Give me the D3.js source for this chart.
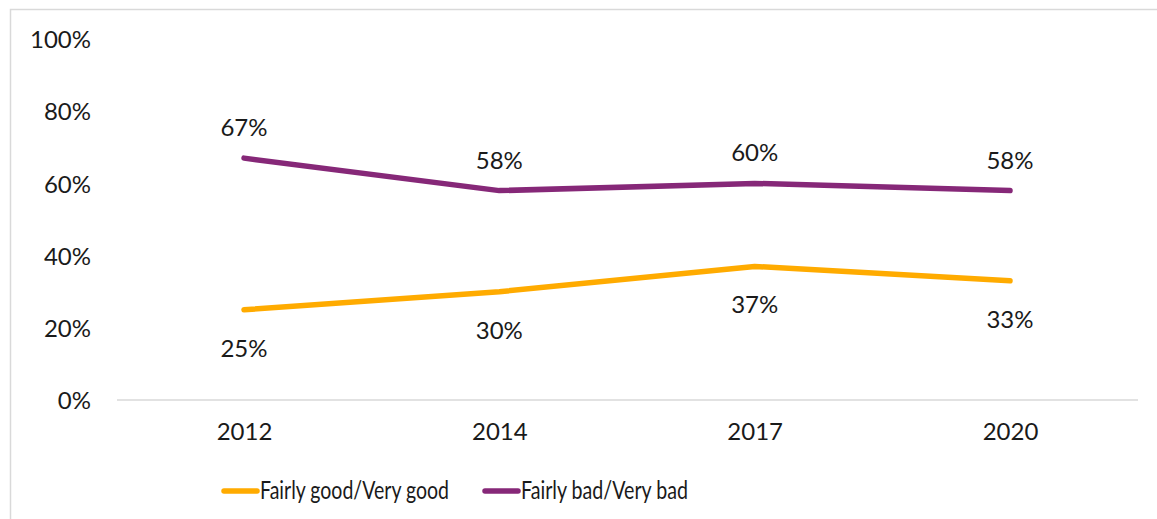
<!DOCTYPE html>
<html><head><meta charset="utf-8">
<script src="https://cdn.jsdelivr.net/npm/d3@7"></script>
<style>
html,body{margin:0;padding:0;background:#fff;}
svg text{font-family:"Lato","Noto Sans",sans-serif;fill:#1a1a1a;}
</style></head>
<body>
<svg id="c" width="1157" height="519"></svg>
<script>
const years = ["2012","2014","2017","2020"];
const goodValues = [25,30,37,33];
const badValues = [67,58,60,58];
const seriesNames = ["Fairly good/Very good","Fairly bad/Very bad"];
const seriesColors = ["#FFAB00","#862878"];
const yTicks = [0,20,40,60,80,100];

const svg = d3.select("#c");
const W = 1157, H = 519;
const fs = 24;

// outer border
svg.append("rect").attr("x",10.5).attr("y",9.5).attr("width",W).attr("height",H)
  .attr("fill","none").attr("stroke","#d9d9d9").attr("stroke-width",1.5);

const x = d3.scalePoint().domain(years).range([244,1010]);
const y = d3.scaleLinear().domain([0,100]).range([400,39]);

// baseline
svg.append("line").attr("x1",117).attr("x2",1138).attr("y1",y(0)).attr("y2",y(0))
  .attr("stroke","#d9d9d9").attr("stroke-width",1.5);

// y axis labels
const yAxis = d3.axisLeft(y).tickValues(yTicks).tickFormat(d=>d+"%").tickSize(0).tickPadding(0);
const yg = svg.append("g").attr("transform","translate(91,0)").call(yAxis);
yg.select(".domain").remove();
yg.selectAll("text").style("font-size",fs+"px").attr("fill","#1a1a1a").attr("dy","0.36em");

// x axis labels
const xAxis = d3.axisBottom(x).tickSize(0).tickPadding(0);
const xg = svg.append("g").attr("transform","translate(0,427)").call(xAxis);
xg.select(".domain").remove();
xg.selectAll("text").style("font-size",fs+"px").attr("fill","#1a1a1a").attr("dy","0.55em");

const series = [goodValues, badValues];
const line = d3.line().x((d,i)=>x(years[i])).y(d=>y(d));
series.forEach((vals,si)=>{
  svg.append("path").datum(vals).attr("d",line).attr("fill","none")
    .attr("stroke",seriesColors[si]).attr("stroke-width",5.5)
    .attr("stroke-linecap","round").attr("stroke-linejoin","round");
  svg.selectAll(null).data(vals).enter().append("text")
    .attr("x",(d,i)=>x(years[i])).attr("y",d=>si===1? y(d)-22 : y(d)+47)
    .attr("text-anchor","middle").style("font-size",fs+"px").text(d=>d+"%");
});

// legend
const legX = [222, 483];
const legLen = [189, 167];
seriesNames.forEach((n,i)=>{
  svg.append("line").attr("x1",legX[i]+2).attr("x2",legX[i]+35).attr("y1",491).attr("y2",491)
    .attr("stroke",seriesColors[i]).attr("stroke-width",5.5).attr("stroke-linecap","round");
  svg.append("text").attr("x",legX[i]+38).attr("y",499).style("font-size","25px")
    .attr("textLength",legLen[i]).attr("lengthAdjust","spacingAndGlyphs").text(n);
});
</script>
</body></html>
